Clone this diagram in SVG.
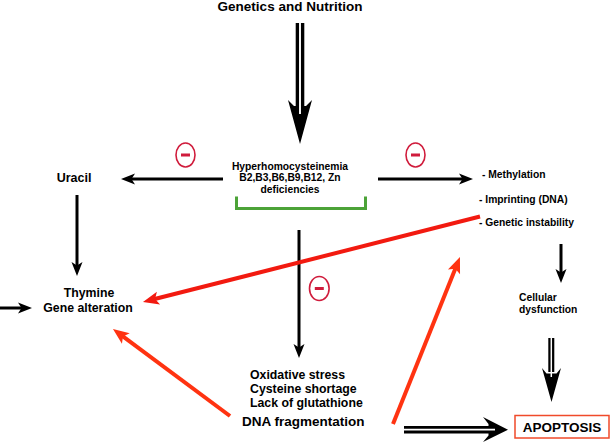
<svg xmlns="http://www.w3.org/2000/svg" width="610" height="442" viewBox="0 0 610 442">
<style>
text{font-family:"Liberation Sans",Arial,Helvetica,sans-serif;font-weight:bold;fill:#000}
.c{text-anchor:middle}
.s10{font-size:10.3px}
.s12{font-size:12.3px}
.s13{font-size:13.5px}
.blk{stroke:#000;stroke-width:3;fill:none}
.red{stroke:#f21a10;stroke-width:4;fill:none}
.org{stroke:#ff3311;stroke-width:4;fill:none}
.inh ellipse{fill:none;stroke:#d01c3c;stroke-width:1.6}
.inh rect{fill:#d01c3c}
</style>
<defs>
<marker id="ab" markerUnits="userSpaceOnUse" orient="auto" refX="6" refY="0" markerWidth="16" markerHeight="14" overflow="visible">
<path d="M14,0 L0,-5.5 L3.5,0 L0,5.5 Z" fill="#000"/>
</marker>
<marker id="ar" markerUnits="userSpaceOnUse" orient="auto" refX="7" refY="0" markerWidth="18" markerHeight="16" overflow="visible">
<path d="M16,0 L0,-6.5 L3.5,0 L0,6.5 Z" fill="#f21a10"/>
</marker>
<marker id="ao" markerUnits="userSpaceOnUse" orient="auto" refX="7" refY="0" markerWidth="18" markerHeight="16" overflow="visible">
<path d="M16,0 L0,-6.5 L3.5,0 L0,6.5 Z" fill="#ff3311"/>
</marker>
</defs>

<g id="connectors">
<!-- top double arrow -->
<rect x="295.7" y="23" width="8.6" height="86" fill="#000"/>
<polygon points="288,100 294,106 306,106 312,100 300,144" fill="#000"/>
<line x1="300" y1="23" x2="300" y2="114" stroke="#fff" stroke-width="1.9"/>
<!-- black single arrows -->
<line class="blk" x1="223" y1="179" x2="129" y2="179" marker-end="url(#ab)"/>
<line class="blk" x1="378" y1="179" x2="465" y2="179" marker-end="url(#ab)"/>
<line class="blk" x1="77" y1="195" x2="77" y2="268" marker-end="url(#ab)"/>
<line class="blk" x1="0" y1="308" x2="24" y2="308" marker-end="url(#ab)"/>
<line class="blk" x1="299" y1="230" x2="299" y2="350" marker-end="url(#ab)"/>
<line class="blk" x1="561" y1="244" x2="561" y2="275" marker-end="url(#ab)"/>
<!-- red arrows -->
<line class="red" x1="480" y1="216.5" x2="151.7" y2="299.8" marker-end="url(#ar)"/>
<line class="org" x1="230" y1="416" x2="120.2" y2="334.4" marker-end="url(#ao)"/>
<line class="org" x1="393" y1="424" x2="456.6" y2="265.4" marker-end="url(#ao)"/>
<!-- double arrow to apoptosis -->
<rect x="404" y="426" width="86" height="7.5" fill="#000"/>
<polygon points="483,417 488.5,424 488.5,435.5 483,442 508,429.7" fill="#000"/>
<line x1="404" y1="429.7" x2="495" y2="429.7" stroke="#fff" stroke-width="1.8"/>
<!-- double arrow down right -->
<rect x="548.3" y="338" width="6" height="34" fill="#000"/>
<polygon points="542,368 546.5,373.5 556.5,373.5 561,368 551.5,402" fill="#000"/>
<line x1="551.3" y1="338" x2="551.3" y2="377" stroke="#fff" stroke-width="1.5"/>
</g>

<g id="inhibitors" class="inh">
<g id="inh-left"><ellipse cx="185.5" cy="155" rx="9.5" ry="12"/><rect x="181" y="153.5" width="9" height="3"/></g>
<g id="inh-right"><ellipse cx="415.5" cy="155" rx="9.5" ry="12"/><rect x="411" y="153.5" width="9" height="3"/></g>
<g id="inh-center"><ellipse cx="319.3" cy="288.5" rx="9.8" ry="12"/><rect x="314.8" y="287" width="9" height="3"/></g>
</g>

<g id="genetics-nutrition"><text class="c s13" x="290" y="11">Genetics and Nutrition</text></g>

<g id="hyperhomocysteinemia">
<text class="c s10" x="290" y="169.5">Hyperhomocysteinemia</text>
<text class="c s10" x="290" y="181">B2,B3,B6,B9,B12, Zn</text>
<text class="c s10" x="290" y="192.5">deficiencies</text>
<path d="M236.5,196.5 V208.5 H365.5 V196.5" fill="none" stroke="#4ca338" stroke-width="3"/>
</g>

<g id="uracil"><text class="c" style="font-size:12.5px" x="74" y="182">Uracil</text></g>

<g id="thymine">
<text class="c s12" x="89" y="297">Thymine</text>
<text class="c s12" x="88" y="312">Gene alteration</text>
</g>

<g id="epigenetic">
<text class="s10" x="482" y="177.5">- Methylation</text>
<text class="s10" x="479" y="202.5">- Imprinting (DNA)</text>
<text class="s10" x="479" y="226">- Genetic instability</text>
</g>

<g id="cellular"><text class="s10" x="519" y="301">Cellular</text><text class="s10" x="519" y="313">dysfunction</text></g>

<g id="oxidative">
<text class="s12" x="250" y="378.5">Oxidative stress</text>
<text class="s12" x="250" y="392.7">Cysteine shortage</text>
<text class="s12" x="250" y="407">Lack of glutathione</text>
<text class="s13" x="242" y="425.5">DNA fragmentation</text>
</g>

<g id="apoptosis">
<rect x="515" y="415.5" width="94" height="22.5" fill="#fff" stroke="#f04a2a" stroke-width="1.5"/>
<text class="c s13" x="562" y="431.7">APOPTOSIS</text>
</g>
</svg>
